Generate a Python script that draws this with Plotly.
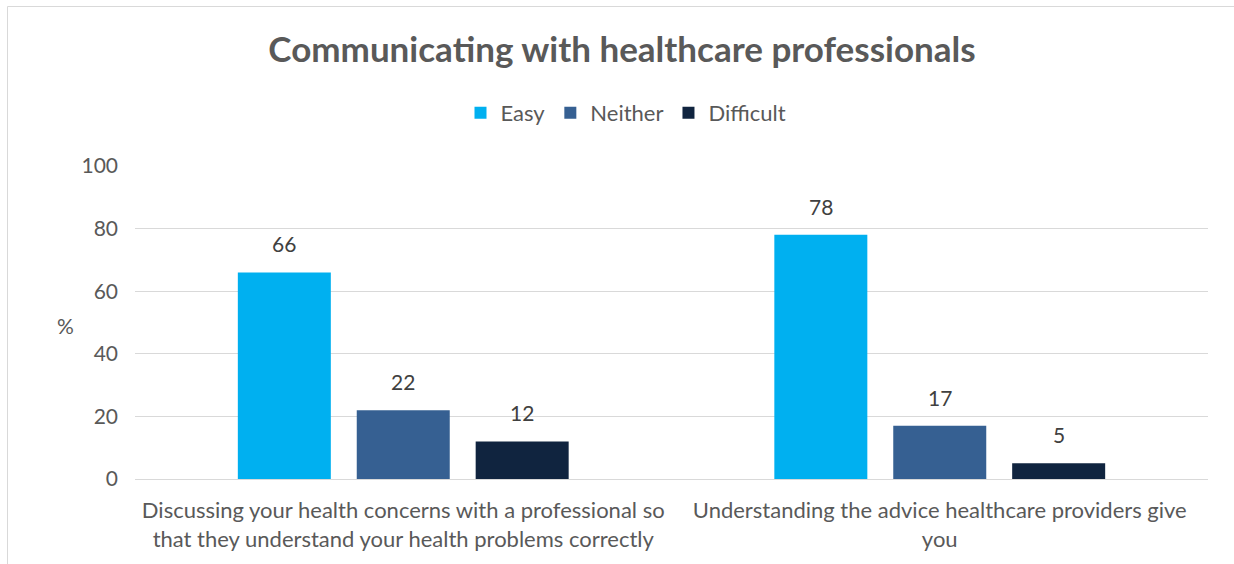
import plotly.graph_objects as go

# Survey results (% of respondents)
categories = [
    "Discussing your health concerns with a professional so<br>that they understand your health problems correctly",
    "Understanding the advice healthcare providers give<br>you",
]
series_names = ["Easy", "Neither", "Difficult"]
easy = [66, 78]
neither = [22, 17]
difficult = [12, 5]
y_ticks = [0, 20, 40, 60, 80, 100]

colors = ["#00B0F0", "#366092", "#10243F"]
FONT = "Lato"
TEXT = "#595959"

W, H = 1234, 564
ML, MR, MT, MB = 135, 26, 166, 85

fig = go.Figure()
for name, vals, col in zip(series_names, [easy, neither, difficult], colors):
    fig.add_trace(go.Bar(
        name=name, x=categories, y=vals, marker=dict(color=col, line=dict(width=0)),
    ))

# value labels above each bar
offsets = [-1, 0, 1]
for vals, off in zip([easy, neither, difficult], offsets):
    for i, v in enumerate(vals):
        fig.add_annotation(
            x=i, y=v, xref="x", yref="y", text=str(v), showarrow=False,
            xshift=off * 119, yshift=14, yanchor="bottom",
            font=dict(family=FONT, size=21, color="#404040"),
        )

# axis caption
fig.add_annotation(
    x=(55 - ML) / (W - ML - MR), y=49, xref="paper", yref="y", text="%",
    showarrow=False, font=dict(family=FONT, size=21, color=TEXT),
)

# chart-area border (left and top edges)
pw, ph = W - ML - MR, H - MT - MB
def px_x(p):
    return (p - ML) / pw
def px_y(p):
    return (H - MB - p) / ph
fig.add_shape(type="rect", xref="paper", yref="paper",
              x0=px_x(7.5), x1=px_x(1300), y0=px_y(620), y1=px_y(6.5),
              line=dict(color="#D9D9D9", width=1), fillcolor="rgba(0,0,0,0)", layer="below")

fig.update_layout(
    width=W, height=H,
    margin=dict(l=ML, r=MR, t=MT, b=MB, autoexpand=False),
    paper_bgcolor="white", plot_bgcolor="white",
    barmode="group", bargap=0.335, bargroupgap=0.218,
    title=dict(text="<b>Communicating with healthcare professionals</b>",
               x=622 / W, xanchor="center", y=1 - 50 / H, yanchor="middle",
               font=dict(family=FONT, size=35, color=TEXT)),
    legend=dict(orientation="h", x=px_x(626), xanchor="center",
                y=px_y(113), yanchor="middle",
                font=dict(family=FONT, size=22, color=TEXT), itemwidth=30,
                traceorder="normal"),
    showlegend=True,
    xaxis=dict(showgrid=False, showline=False, zeroline=False, ticks="",
               tickangle=0, automargin=False,
               tickfont=dict(family=FONT, size=22, color=TEXT), ticklabelstandoff=16),
    yaxis=dict(range=[0, 100], tickvals=y_ticks, showgrid=True, gridcolor="#D9D9D9",
               gridwidth=1, zeroline=True, zerolinecolor="#D9D9D9", zerolinewidth=1,
               showline=False, ticks="", ticklabelstandoff=16, automargin=False,
               tickfont=dict(family=FONT, size=21, color=TEXT)),
)

fig.write_html("out.html")
